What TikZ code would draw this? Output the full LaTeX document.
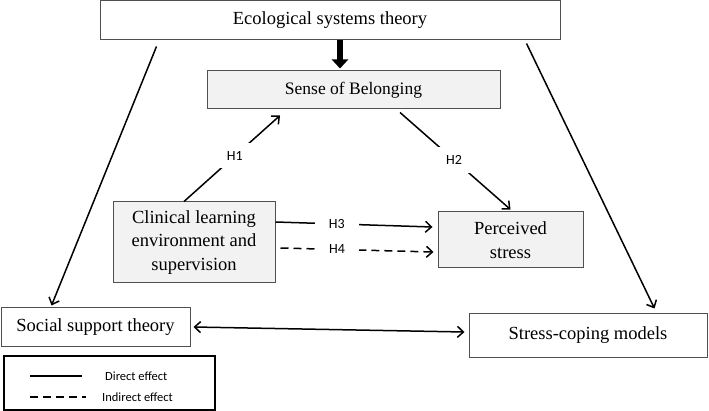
\documentclass[tikz,border=0pt]{standalone}
\usepackage{fontspec}
\setmainfont{Liberation Serif}
\newfontfamily\calfont{Carlito}
\usetikzlibrary{arrows.meta,calc}
\definecolor{boxfill}{HTML}{F2F2F2}
\definecolor{boxline}{HTML}{505050}
\tikzset{
  theorybox/.style={draw=boxline, line width=1pt, fill=white, inner sep=0pt,
    font=\fontsize{18.5}{23.5}\selectfont, align=center},
  graybox/.style={theorybox, fill=boxfill},
  arr/.style={line width=1.5pt, -{Straight Barb[length=6pt,width=11pt]}},
  darr/.style={line width=1.5pt, {Straight Barb[length=6pt,width=11pt]}-{Straight Barb[length=6pt,width=11pt]}},
  dashline/.style={dash pattern=on 8pt off 5pt},
  hlab/.style={font=\calfont\fontsize{14}{16}\selectfont, fill=white, inner xsep=12pt, inner ysep=8pt},
  legtext/.style={font=\calfont\fontsize{12.5}{14}\selectfont, anchor=west, inner sep=0pt},
  thickarr/.style={line width=6pt, -{Triangle[length=9pt,width=16pt]}}
}
\begin{document}
\begin{tikzpicture}[x=1pt,y=-1pt]
\useasboundingbox (0,0) rectangle (709,411);
% nodes
\node[theorybox, minimum width=460pt, minimum height=39pt] (eco) at (330,20.5) {Ecological systems theory};
\node[graybox, minimum width=293pt, minimum height=38pt, font=\fontsize{17.5}{20}\selectfont] (sob) at (353.5,90) {Sense of Belonging};
\node[graybox, minimum width=162pt, minimum height=81pt] (clin) at (194,242.5) {Clinical learning\\environment and\\supervision};
\node[graybox, minimum width=145pt, minimum height=56pt] (per) at (510.5,240) {Perceived\\stress};
\node[theorybox, minimum width=189pt, minimum height=38pt] (soc) at (95.5,327) {Social support theory};
\node[theorybox, minimum width=238pt, minimum height=43pt] (stc) at (588,335.5) {Stress-coping models};
\node[draw=black, line width=1.3pt, minimum width=211pt, minimum height=54pt, inner sep=0pt] (leg) at (109.5,383) {};
% connectors
\draw[thickarr] ([xshift=10pt]eco.south) -- ($(sob.north)+(-13.5,-2)$);
\draw[arr] ($(eco.south west)+(57,6)$) -- ($(soc.north west)+(51,-2)$);
\draw[arr] ($(eco.south east)+(-34,3)$) -- ($(stc.north west)+(186,-5)$);
\draw[arr] ($(clin.north)+(-10,0)$) -- node[hlab, pos=0.53] {H1} ($(sob.south)+(-73.5,6)$);
\draw[arr] ($(sob.south)+(46.5,3)$) -- node[hlab, pos=0.49] {H2} ($(per.north)+(0,-2)$);
\draw[arr] ($(clin.east)+(0,-20.5)$) -- node[hlab, pos=0.39, inner xsep=14pt] {H3} ($(per.west)+(-5,-13)$);
\draw[arr, dashline] ($(clin.east)+(5,5.5)$) -- node[hlab, pos=0.37, inner xsep=14pt] {H4} ($(per.west)+(-4,12)$);
\draw[darr] ($(soc.east)+(3,0)$) -- ($(stc.west)+(-4,-3.5)$);
% legend
\coordinate (l1a) at (30,376); \coordinate (l1b) at (82,376);
\coordinate (l2a) at (30,397); \coordinate (l2b) at (86,397);
\draw[line width=1.5pt] (l1a) -- (l1b);
\draw[line width=1.5pt, dashline] (l2a) -- (l2b);
\node[legtext] (t1) at (105,376) {Direct effect};
\node[legtext] (t2) at (102,397) {Indirect effect};
\end{tikzpicture}
\end{document}
